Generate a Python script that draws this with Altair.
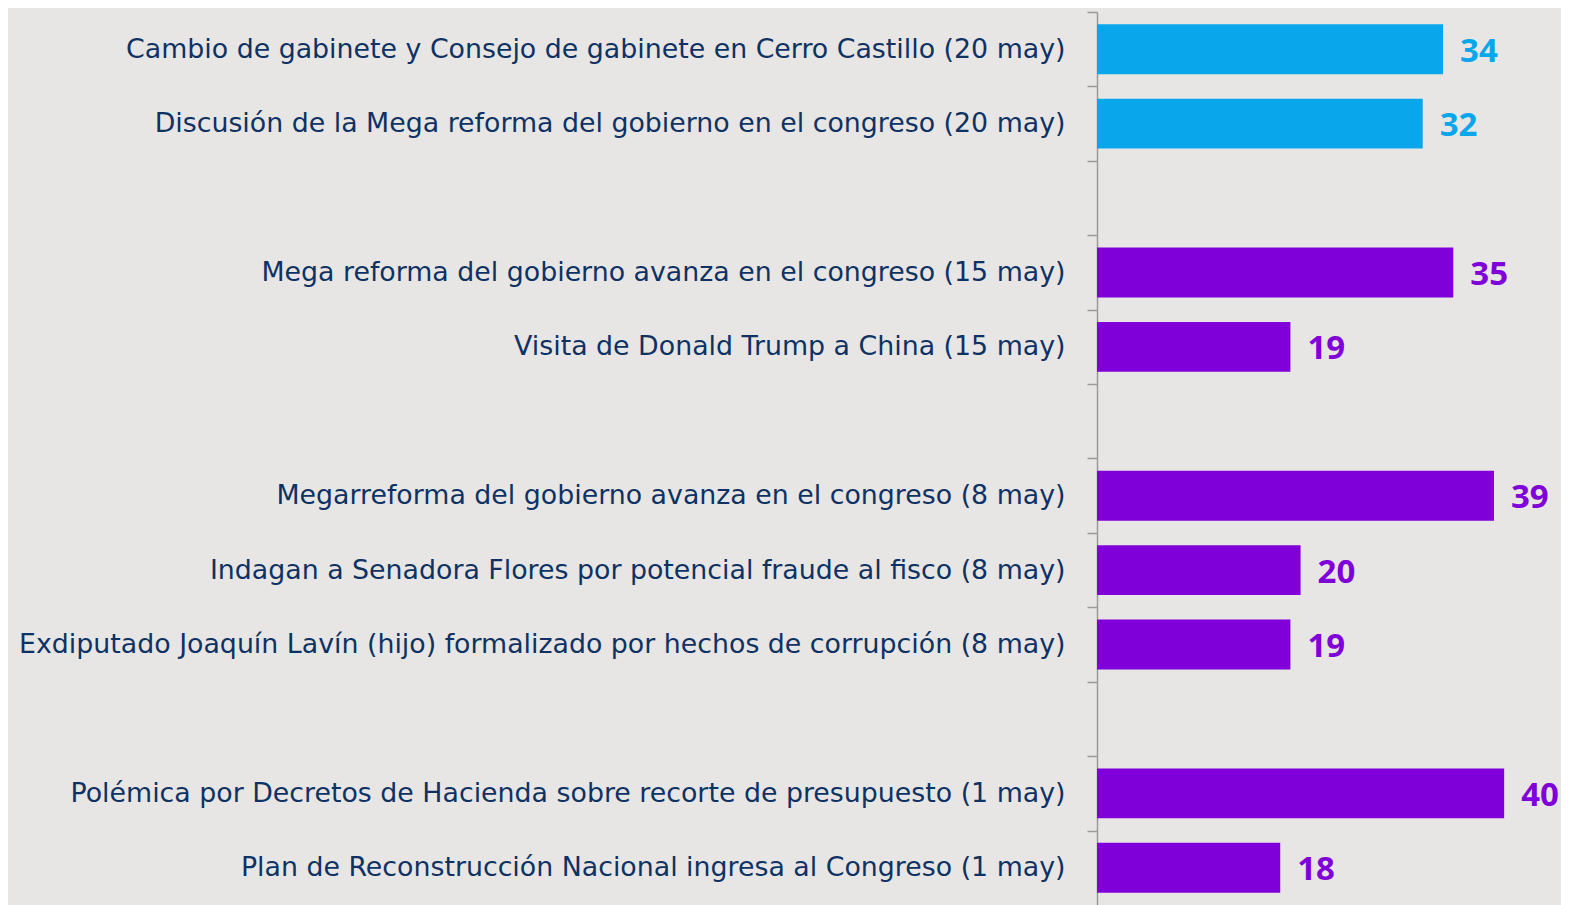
import altair as alt
import pandas as pd

categories = [
    "Cambio de gabinete y Consejo de gabinete en Cerro Castillo (20 may)",
    "Discusión de la Mega reforma del gobierno en el congreso (20 may)",
    "_blank1",
    "Mega reforma del gobierno avanza en el congreso (15 may)",
    "Visita de Donald Trump a China (15 may)",
    "_blank2",
    "Megarreforma del gobierno avanza en el congreso (8 may)",
    "Indagan a Senadora Flores por potencial fraude al fisco (8 may)",
    "Exdiputado Joaquín Lavín (hijo) formalizado por hechos de corrupción (8 may)",
    "_blank3",
    "Polémica por Decretos de Hacienda sobre recorte de presupuesto (1 may)",
    "Plan de Reconstrucción Nacional ingresa al Congreso (1 may)",
]
values = [34, 32, None, 35, 19, None, 39, 20, 19, None, 40, 18]
groups = ["latest", "latest", None, "prev", "prev", None, "prev", "prev", "prev", None, "prev", "prev"]

df = pd.DataFrame({"cat": categories, "value": values, "group": groups})
bars_df = df.dropna(subset=["value"]).copy()
bars_df["value"] = bars_df["value"].astype(int)

color_scale = alt.Scale(domain=["latest", "prev"], range=["#0aa6ec", "#7f00d8"])

y = alt.Y(
    "cat:N",
    scale=alt.Scale(domain=categories, paddingInner=0.33, paddingOuter=0.165),
    axis=alt.Axis(
        title=None,
        labelExpr="indexof(datum.value, '_blank') == 0 ? '' : datum.value",
        labelFont="DejaVu Sans",
        labelFontSize=26.8,
        labelColor="#0d3263",
        labelPadding=22,
        labelLimit=1200,
        labelOffset=12.3,
        tickSize=10,
        tickColor="#9a9a9a",
        domainColor="#9a9a9a",
        bandPosition=0,
        tickOffset=-12.3,
        domainWidth=1.5,
        tickWidth=1.5,
    ),
)

x = alt.X("value:Q", scale=alt.Scale(domain=[0, 44.7]), axis=None)

bars = alt.Chart(bars_df).mark_bar().encode(
    x=x,
    y=y,
    color=alt.Color("group:N", scale=color_scale, legend=None),
)

labels = alt.Chart(bars_df).mark_text(
    align="left", baseline="middle", dx=17, dy=2.5, font="Open Sans", fontSize=33, fontWeight="bold"
).encode(
    x=x,
    y=alt.Y("cat:N"),
    text=alt.Text("value:Q", format="d"),
    color=alt.Color("group:N", scale=color_scale, legend=None),
)

chart = (
    alt.layer(bars, labels)
    .properties(
        width=455,
        height=893,
        background="#e8e6e4",
        padding={"left": 1089, "top": 4, "right": 9, "bottom": 0},
        autosize=alt.AutoSizeParams(type="none"),
    )
    .configure_view(stroke=None)
)

chart.save("out.html", embed_options={"renderer": "svg", "actions": False})
